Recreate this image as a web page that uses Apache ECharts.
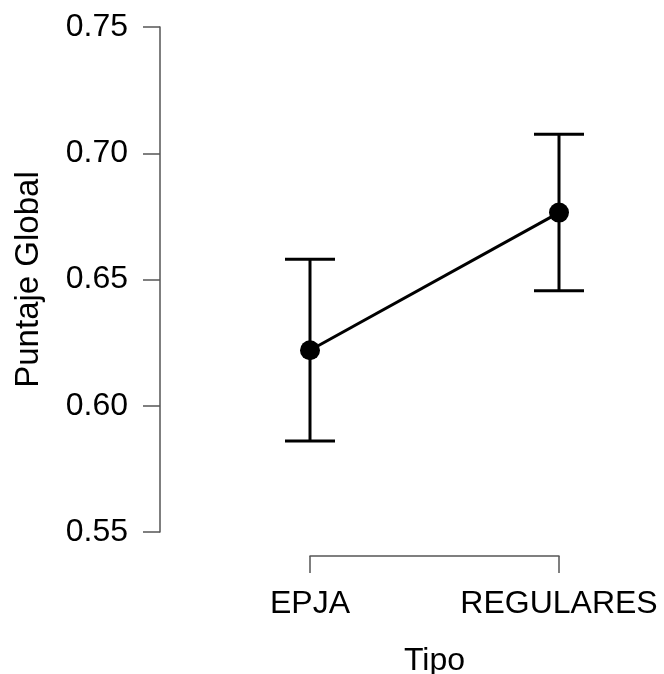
<!DOCTYPE html>
<html>
<head>
<meta charset="utf-8">
<title>Puntaje Global por Tipo</title>
<script src="https://cdn.jsdelivr.net/npm/echarts@6/dist/echarts.min.js"></script>
<style>
    html, body { margin: 0; padding: 0; background: #fff; }
    #chart { width: 664px; height: 674px; }
</style>
</head>
<body>
<div id="chart"></div>
<script>
// 데이터
const tipos = ['EPJA', 'REGULARES'];
const medias = [0.622, 0.6765];
const limiteInferior = [0.586, 0.6455];
const limiteSuperior = [0.658, 0.7075];
const yMin = 0.55;
const yMax = 0.75;
const yInterval = 0.05;

const FONT = '"Liberation Sans", Arial, sans-serif';
const AXIS_COLOR = '#555';

// 오차 막대 데이터: [카테고리 인덱스, 하한, 상한]
const errorData = tipos.map((t, i) => [i, limiteInferior[i], limiteSuperior[i]]);

/**
 * @description 오차 막대 그리기 (세로선 + 위/아래 캡)
 */
function renderErrorBar(params, api) {
    const x = api.value(0);
    const low = api.coord([x, api.value(1)]);
    const high = api.coord([x, api.value(2)]);
    const half = 25;  // 캡 절반 폭
    const style = { stroke: '#000', lineWidth: 3 };
    return {
        type: 'group',
        children: [
            { type: 'line', shape: { x1: low[0], y1: low[1], x2: high[0], y2: high[1] }, style },
            { type: 'line', shape: { x1: high[0] - half, y1: high[1], x2: high[0] + half, y2: high[1] }, style },
            { type: 'line', shape: { x1: low[0] - half, y1: low[1], x2: low[0] + half, y2: low[1] }, style }
        ]
    };
}

const chart = echarts.init(document.getElementById('chart'));

const option = {
    animation: false,
    backgroundColor: '#fff',
    grid: {
        left: 310,
        right: 105,
        top: 27,
        bottom: 142,
        containLabel: false,
        outerBoundsMode: 'none'  // 그리드 자동 축소 방지
    },
    xAxis: {
        type: 'category',
        data: tipos,
        boundaryGap: false,
        offset: 24,  // x축을 그래프 아래로 띄움
        name: 'Tipo',
        nameLocation: 'middle',
        nameGap: 89,
        nameTextStyle: { fontFamily: FONT, fontSize: 32, color: '#000' },
        axisLine: { show: true, lineStyle: { color: AXIS_COLOR, width: 1.5 } },
        axisTick: { show: true, interval: 0, length: 17, alignWithLabel: true, lineStyle: { color: AXIS_COLOR, width: 1.5 } },
        axisLabel: { interval: 0, hideOverlap: false, margin: 32, fontFamily: FONT, fontSize: 32, color: '#000' },
        splitLine: { show: false }
    },
    yAxis: {
        type: 'value',
        min: yMin,
        max: yMax,
        interval: yInterval,
        offset: 150,  // 축선을 x=160 위치로 이동
        name: 'Puntaje Global',
        nameLocation: 'middle',
        nameGap: 115,
        nameRotate: 90,
        nameTextStyle: { fontFamily: FONT, fontSize: 33, color: '#000' },
        axisLine: { show: true, lineStyle: { color: AXIS_COLOR, width: 1.5 } },
        axisTick: { show: true, length: 17, lineStyle: { color: AXIS_COLOR, width: 1.5 } },
        axisLabel: {
            margin: 32,
            fontFamily: FONT,
            fontSize: 32,
            color: '#000',
            formatter: (v) => v.toFixed(2)
        },
        splitLine: { show: false }
    },
    series: [
        {
            type: 'custom',
            data: errorData,
            renderItem: renderErrorBar,
            clip: false,
            z: 2
        },
        {
            type: 'line',
            data: medias,
            symbol: 'circle',
            symbolSize: 20,
            itemStyle: { color: '#000' },
            lineStyle: { color: '#000', width: 3 },
            z: 3
        }
    ]
};

chart.setOption(option);
</script>
</body>
</html>
